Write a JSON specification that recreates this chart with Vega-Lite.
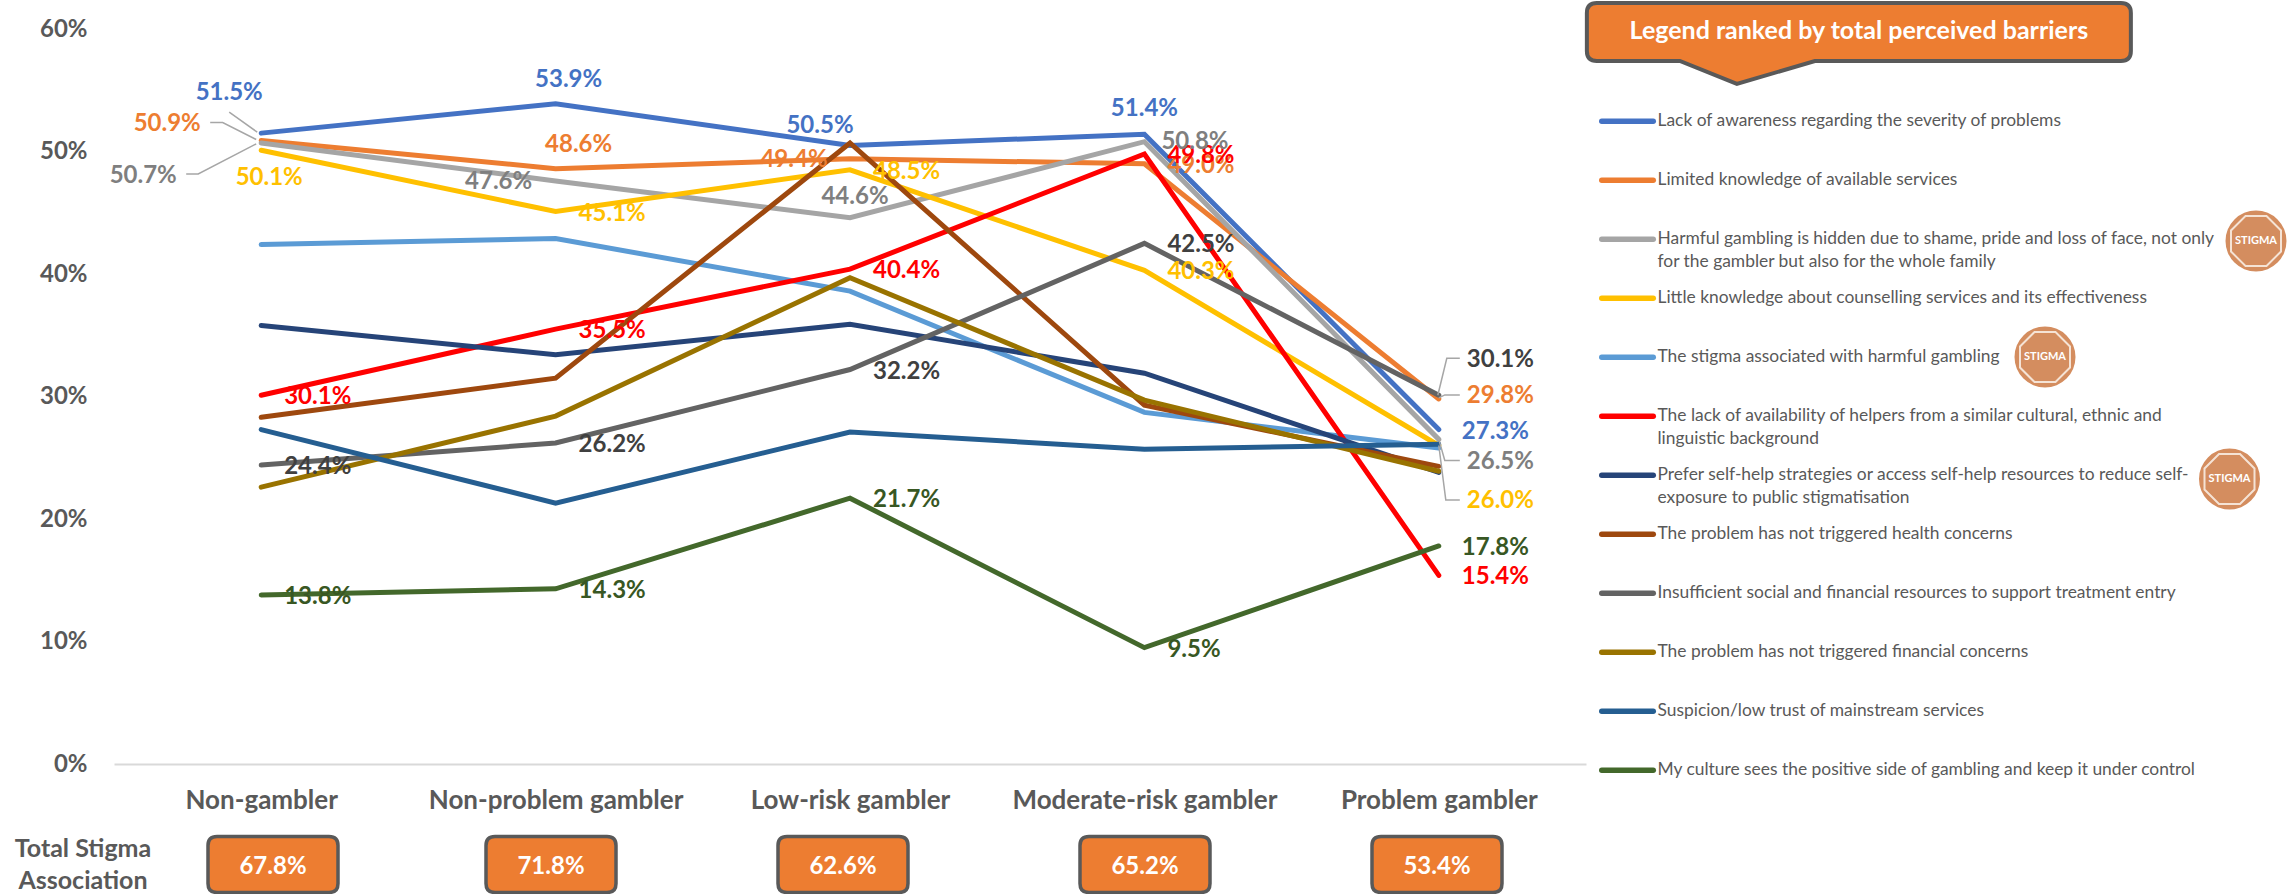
{"$schema":"https://vega.github.io/schema/vega-lite/v6.json","autosize":"none","width":1472,"height":735,"padding":{"left":114,"top":29,"right":709,"bottom":130},"background":"white","config":{"view":{"stroke":null},"font":"Lato"},
"datasets":{"rows":[
{"barrier":"Lack of awareness regarding the severity of problems","key":"aware","group":"Non-gambler","point":"aware-1","value":0.515},
{"barrier":"Lack of awareness regarding the severity of problems","key":"aware","group":"Non-problem gambler","point":"aware-2","value":0.539},
{"barrier":"Lack of awareness regarding the severity of problems","key":"aware","group":"Low-risk gambler","point":"aware-3","value":0.505},
{"barrier":"Lack of awareness regarding the severity of problems","key":"aware","group":"Moderate-risk gambler","point":"aware-4","value":0.514},
{"barrier":"Lack of awareness regarding the severity of problems","key":"aware","group":"Problem gambler","point":"aware-5","value":0.273},
{"barrier":"Limited knowledge of available services","key":"limited","group":"Non-gambler","point":"limited-1","value":0.509},
{"barrier":"Limited knowledge of available services","key":"limited","group":"Non-problem gambler","point":"limited-2","value":0.486},
{"barrier":"Limited knowledge of available services","key":"limited","group":"Low-risk gambler","point":"limited-3","value":0.494},
{"barrier":"Limited knowledge of available services","key":"limited","group":"Moderate-risk gambler","point":"limited-4","value":0.49},
{"barrier":"Limited knowledge of available services","key":"limited","group":"Problem gambler","point":"limited-5","value":0.298},
{"barrier":"Harmful gambling is hidden due to shame, pride and loss of face, not only for the gambler but also for the whole family","key":"harmful","group":"Non-gambler","point":"harmful-1","value":0.507},
{"barrier":"Harmful gambling is hidden due to shame, pride and loss of face, not only for the gambler but also for the whole family","key":"harmful","group":"Non-problem gambler","point":"harmful-2","value":0.476},
{"barrier":"Harmful gambling is hidden due to shame, pride and loss of face, not only for the gambler but also for the whole family","key":"harmful","group":"Low-risk gambler","point":"harmful-3","value":0.446},
{"barrier":"Harmful gambling is hidden due to shame, pride and loss of face, not only for the gambler but also for the whole family","key":"harmful","group":"Moderate-risk gambler","point":"harmful-4","value":0.508},
{"barrier":"Harmful gambling is hidden due to shame, pride and loss of face, not only for the gambler but also for the whole family","key":"harmful","group":"Problem gambler","point":"harmful-5","value":0.265},
{"barrier":"Little knowledge about counselling services and its effectiveness","key":"little","group":"Non-gambler","point":"little-1","value":0.501},
{"barrier":"Little knowledge about counselling services and its effectiveness","key":"little","group":"Non-problem gambler","point":"little-2","value":0.451},
{"barrier":"Little knowledge about counselling services and its effectiveness","key":"little","group":"Low-risk gambler","point":"little-3","value":0.485},
{"barrier":"Little knowledge about counselling services and its effectiveness","key":"little","group":"Moderate-risk gambler","point":"little-4","value":0.403},
{"barrier":"Little knowledge about counselling services and its effectiveness","key":"little","group":"Problem gambler","point":"little-5","value":0.26},
{"barrier":"The stigma associated with harmful gambling","key":"stigma","group":"Non-gambler","point":"stigma-1","value":0.424},
{"barrier":"The stigma associated with harmful gambling","key":"stigma","group":"Non-problem gambler","point":"stigma-2","value":0.429},
{"barrier":"The stigma associated with harmful gambling","key":"stigma","group":"Low-risk gambler","point":"stigma-3","value":0.386},
{"barrier":"The stigma associated with harmful gambling","key":"stigma","group":"Moderate-risk gambler","point":"stigma-4","value":0.287},
{"barrier":"The stigma associated with harmful gambling","key":"stigma","group":"Problem gambler","point":"stigma-5","value":0.258},
{"barrier":"The lack of availability of helpers from a similar cultural, ethnic and linguistic background","key":"helpers","group":"Non-gambler","point":"helpers-1","value":0.301},
{"barrier":"The lack of availability of helpers from a similar cultural, ethnic and linguistic background","key":"helpers","group":"Non-problem gambler","point":"helpers-2","value":0.355},
{"barrier":"The lack of availability of helpers from a similar cultural, ethnic and linguistic background","key":"helpers","group":"Low-risk gambler","point":"helpers-3","value":0.404},
{"barrier":"The lack of availability of helpers from a similar cultural, ethnic and linguistic background","key":"helpers","group":"Moderate-risk gambler","point":"helpers-4","value":0.498},
{"barrier":"The lack of availability of helpers from a similar cultural, ethnic and linguistic background","key":"helpers","group":"Problem gambler","point":"helpers-5","value":0.154},
{"barrier":"Prefer self-help strategies or access self-help resources to reduce self-exposure to public stigmatisation","key":"selfhelp","group":"Non-gambler","point":"selfhelp-1","value":0.358},
{"barrier":"Prefer self-help strategies or access self-help resources to reduce self-exposure to public stigmatisation","key":"selfhelp","group":"Non-problem gambler","point":"selfhelp-2","value":0.334},
{"barrier":"Prefer self-help strategies or access self-help resources to reduce self-exposure to public stigmatisation","key":"selfhelp","group":"Low-risk gambler","point":"selfhelp-3","value":0.359},
{"barrier":"Prefer self-help strategies or access self-help resources to reduce self-exposure to public stigmatisation","key":"selfhelp","group":"Moderate-risk gambler","point":"selfhelp-4","value":0.319},
{"barrier":"Prefer self-help strategies or access self-help resources to reduce self-exposure to public stigmatisation","key":"selfhelp","group":"Problem gambler","point":"selfhelp-5","value":0.238},
{"barrier":"The problem has not triggered health concerns","key":"health","group":"Non-gambler","point":"health-1","value":0.283},
{"barrier":"The problem has not triggered health concerns","key":"health","group":"Non-problem gambler","point":"health-2","value":0.315},
{"barrier":"The problem has not triggered health concerns","key":"health","group":"Low-risk gambler","point":"health-3","value":0.507},
{"barrier":"The problem has not triggered health concerns","key":"health","group":"Moderate-risk gambler","point":"health-4","value":0.293},
{"barrier":"The problem has not triggered health concerns","key":"health","group":"Problem gambler","point":"health-5","value":0.243},
{"barrier":"Insufficient social and financial resources to support treatment entry","key":"resources","group":"Non-gambler","point":"resources-1","value":0.244},
{"barrier":"Insufficient social and financial resources to support treatment entry","key":"resources","group":"Non-problem gambler","point":"resources-2","value":0.262},
{"barrier":"Insufficient social and financial resources to support treatment entry","key":"resources","group":"Low-risk gambler","point":"resources-3","value":0.322},
{"barrier":"Insufficient social and financial resources to support treatment entry","key":"resources","group":"Moderate-risk gambler","point":"resources-4","value":0.425},
{"barrier":"Insufficient social and financial resources to support treatment entry","key":"resources","group":"Problem gambler","point":"resources-5","value":0.301},
{"barrier":"The problem has not triggered financial concerns","key":"financial","group":"Non-gambler","point":"financial-1","value":0.226},
{"barrier":"The problem has not triggered financial concerns","key":"financial","group":"Non-problem gambler","point":"financial-2","value":0.284},
{"barrier":"The problem has not triggered financial concerns","key":"financial","group":"Low-risk gambler","point":"financial-3","value":0.397},
{"barrier":"The problem has not triggered financial concerns","key":"financial","group":"Moderate-risk gambler","point":"financial-4","value":0.297},
{"barrier":"The problem has not triggered financial concerns","key":"financial","group":"Problem gambler","point":"financial-5","value":0.239},
{"barrier":"Suspicion/low trust of mainstream services","key":"trust","group":"Non-gambler","point":"trust-1","value":0.273},
{"barrier":"Suspicion/low trust of mainstream services","key":"trust","group":"Non-problem gambler","point":"trust-2","value":0.213},
{"barrier":"Suspicion/low trust of mainstream services","key":"trust","group":"Low-risk gambler","point":"trust-3","value":0.271},
{"barrier":"Suspicion/low trust of mainstream services","key":"trust","group":"Moderate-risk gambler","point":"trust-4","value":0.257},
{"barrier":"Suspicion/low trust of mainstream services","key":"trust","group":"Problem gambler","point":"trust-5","value":0.261},
{"barrier":"My culture sees the positive side of gambling and keep it under control","key":"culture","group":"Non-gambler","point":"culture-1","value":0.138},
{"barrier":"My culture sees the positive side of gambling and keep it under control","key":"culture","group":"Non-problem gambler","point":"culture-2","value":0.143},
{"barrier":"My culture sees the positive side of gambling and keep it under control","key":"culture","group":"Low-risk gambler","point":"culture-3","value":0.217},
{"barrier":"My culture sees the positive side of gambling and keep it under control","key":"culture","group":"Moderate-risk gambler","point":"culture-4","value":0.095},
{"barrier":"My culture sees the positive side of gambling and keep it under control","key":"culture","group":"Problem gambler","point":"culture-5","value":0.178}
],
"totals":[
{"group":"Non-gambler","order":1,"total":0.678},
{"group":"Non-problem gambler","order":2,"total":0.718},
{"group":"Low-risk gambler","order":3,"total":0.626},
{"group":"Moderate-risk gambler","order":4,"total":0.652},
{"group":"Problem gambler","order":5,"total":0.534}
],
"badges":[{"rank":3,"label":"STIGMA"},{"rank":5,"label":"STIGMA"},{"rank":7,"label":"STIGMA"}]},
"resolve":{"scale":{"x":"independent","y":"independent"}},
"layer":[
{"data":{"name":"rows"},
"encoding":{
"x":{"field":"group","type":"nominal","sort":null,"scale":{"type":"point","padding":0.5,"domain":["Non-gambler","Non-problem gambler","Low-risk gambler","Moderate-risk gambler","Problem gambler"]},"axis":{"title":null,"labelAngle":0,"labelFont":"Lato","labelFontWeight":"bold","labelFontSize":26,"labelColor":"#595959","labelPadding":23,"ticks":false,"domainColor":"#D9D9D9","domainWidth":2,"grid":false,"labelLimit":400}},
"y":{"field":"value","type":"quantitative","scale":{"domain":[0,0.6],"nice":false},"axis":{"title":null,"format":".0%","values":[0,0.1,0.2,0.3,0.4,0.5,0.6],"labelFont":"Lato","labelFontWeight":"bold","labelFontSize":24,"labelColor":"#595959","labelPadding":27,"ticks":false,"domain":false,"grid":false}}},
"layer":[
{"mark":{"type":"line","strokeWidth":5,"strokeCap":"round","strokeJoin":"miter"},
"encoding":{"stroke":{"field":"barrier","type":"nominal","sort":null,
"scale":{"domain":["Lack of awareness regarding the severity of problems","Limited knowledge of available services","Harmful gambling is hidden due to shame, pride and loss of face, not only for the gambler but also for the whole family","Little knowledge about counselling services and its effectiveness","The stigma associated with harmful gambling","The lack of availability of helpers from a similar cultural, ethnic and linguistic background","Prefer self-help strategies or access self-help resources to reduce self-exposure to public stigmatisation","The problem has not triggered health concerns","Insufficient social and financial resources to support treatment entry","The problem has not triggered financial concerns","Suspicion/low trust of mainstream services","My culture sees the positive side of gambling and keep it under control"],
"range":["#4472C4","#ED7D31","#A5A5A5","#FFC000","#5B9BD5","#FF0000","#264478","#9E480E","#636363","#997300","#255E91","#43682B"]},
"legend":{"title":null,"orient":"none","legendX":1485,"legendY":65,"padding":0,"symbolType":"stroke","symbolSize":2652,"symbolStrokeWidth":5.5,"labelOffset":1.5,"clipHeight":58.7,"rowPadding":0,"labelFont":"Lato","labelFontSize":17.4,"labelColor":"#595959","labelLimit":700,"labelBaseline":"top",
"labelExpr":"split(replace(replace(replace(datum.label,' for the gambler','|for the gambler'),' linguistic background','|linguistic background'),'self-exposure','self-|exposure'),'|')",
"encoding":{"labels":{"dy":{"value":-11},"lineHeight":{"value":23}},"symbols":{"strokeCap":{"value":"round"},"y":{"value":27.35}}}}},
"order":{"field":"point","type":"nominal","sort":"ascending"}}},
{"transform":[{"filter":{"field":"point","oneOf":["aware-5","helpers-1","helpers-2","helpers-3","helpers-4","helpers-5","little-2","little-3","little-4","limited-4","resources-1","resources-2","resources-3","resources-4","culture-1","culture-2","culture-3","culture-4","culture-5"]}}],
"mark":{"type":"text","align":"left","dx":23,"dy":2,"fontSize":24,"fontWeight":"bold","font":"Lato"},
"encoding":{"text":{"field":"value","type":"quantitative","format":".1%"},"fill":{"field":"key","type":"nominal","legend":null,"scale":{"domain":["aware","limited","harmful","little","helpers","resources","culture"],"range":["#4472C4","#ED7D31","#7F7F7F","#FFC000","#FF0000","#404040","#385723"]}}}},
{"transform":[{"filter":{"field":"point","equal":"aware-1"}}],"mark":{"type":"text","dx":-32,"dy":-40,"fontSize":24,"fontWeight":"bold","font":"Lato"},"encoding":{"text":{"field":"value","type":"quantitative","format":".1%"},"fill":{"field":"key","type":"nominal","legend":null}}},
{"transform":[{"filter":{"field":"point","equal":"limited-1"}}],"mark":{"type":"text","dx":-94,"dy":-16,"fontSize":24,"fontWeight":"bold","font":"Lato"},"encoding":{"text":{"field":"value","type":"quantitative","format":".1%"},"fill":{"field":"key","type":"nominal","legend":null}}},
{"transform":[{"filter":{"field":"point","equal":"harmful-1"}}],"mark":{"type":"text","dx":-118,"dy":33,"fontSize":24,"fontWeight":"bold","font":"Lato"},"encoding":{"text":{"field":"value","type":"quantitative","format":".1%"},"fill":{"field":"key","type":"nominal","legend":null}}},
{"transform":[{"filter":{"field":"point","equal":"little-1"}}],"mark":{"type":"text","dx":8,"dy":28,"fontSize":24,"fontWeight":"bold","font":"Lato"},"encoding":{"text":{"field":"value","type":"quantitative","format":".1%"},"fill":{"field":"key","type":"nominal","legend":null}}},
{"transform":[{"filter":{"field":"point","equal":"aware-2"}}],"mark":{"type":"text","dx":13,"dy":-24,"fontSize":24,"fontWeight":"bold","font":"Lato"},"encoding":{"text":{"field":"value","type":"quantitative","format":".1%"},"fill":{"field":"key","type":"nominal","legend":null}}},
{"transform":[{"filter":{"field":"point","equal":"limited-2"}}],"mark":{"type":"text","dx":23,"dy":-24,"fontSize":24,"fontWeight":"bold","font":"Lato"},"encoding":{"text":{"field":"value","type":"quantitative","format":".1%"},"fill":{"field":"key","type":"nominal","legend":null}}},
{"transform":[{"filter":{"field":"point","equal":"harmful-2"}}],"mark":{"type":"text","dx":-57,"dy":1,"fontSize":24,"fontWeight":"bold","font":"Lato"},"encoding":{"text":{"field":"value","type":"quantitative","format":".1%"},"fill":{"field":"key","type":"nominal","legend":null}}},
{"transform":[{"filter":{"field":"point","equal":"aware-3"}}],"mark":{"type":"text","dx":-30,"dy":-19,"fontSize":24,"fontWeight":"bold","font":"Lato"},"encoding":{"text":{"field":"value","type":"quantitative","format":".1%"},"fill":{"field":"key","type":"nominal","legend":null}}},
{"transform":[{"filter":{"field":"point","equal":"limited-3"}}],"mark":{"type":"text","dx":-56,"dy":1,"fontSize":24,"fontWeight":"bold","font":"Lato"},"encoding":{"text":{"field":"value","type":"quantitative","format":".1%"},"fill":{"field":"key","type":"nominal","legend":null}}},
{"transform":[{"filter":{"field":"point","equal":"harmful-3"}}],"mark":{"type":"text","dx":5,"dy":-21,"fontSize":24,"fontWeight":"bold","font":"Lato"},"encoding":{"text":{"field":"value","type":"quantitative","format":".1%"},"fill":{"field":"key","type":"nominal","legend":null}}},
{"transform":[{"filter":{"field":"point","equal":"aware-4"}}],"mark":{"type":"text","dx":0,"dy":-25,"fontSize":24,"fontWeight":"bold","font":"Lato"},"encoding":{"text":{"field":"value","type":"quantitative","format":".1%"},"fill":{"field":"key","type":"nominal","legend":null}}},
{"transform":[{"filter":{"field":"point","equal":"harmful-4"}}],"mark":{"type":"text","align":"left","dx":17,"dy":0,"fontSize":24,"fontWeight":"bold","font":"Lato"},"encoding":{"text":{"field":"value","type":"quantitative","format":".1%"},"fill":{"field":"key","type":"nominal","legend":null}}},
{"transform":[{"filter":{"field":"point","equal":"resources-5"}}],"mark":{"type":"text","align":"left","dx":28,"dy":-35,"fontSize":24,"fontWeight":"bold","font":"Lato"},"encoding":{"text":{"field":"value","type":"quantitative","format":".1%"},"fill":{"field":"key","type":"nominal","legend":null}}},
{"transform":[{"filter":{"field":"point","equal":"limited-5"}}],"mark":{"type":"text","align":"left","dx":28,"dy":-3,"fontSize":24,"fontWeight":"bold","font":"Lato"},"encoding":{"text":{"field":"value","type":"quantitative","format":".1%"},"fill":{"field":"key","type":"nominal","legend":null}}},
{"transform":[{"filter":{"field":"point","equal":"harmful-5"}}],"mark":{"type":"text","align":"left","dx":28,"dy":23,"fontSize":24,"fontWeight":"bold","font":"Lato"},"encoding":{"text":{"field":"value","type":"quantitative","format":".1%"},"fill":{"field":"key","type":"nominal","legend":null}}},
{"transform":[{"filter":{"field":"point","equal":"little-5"}}],"mark":{"type":"text","align":"left","dx":28,"dy":55,"fontSize":24,"fontWeight":"bold","font":"Lato"},"encoding":{"text":{"field":"value","type":"quantitative","format":".1%"},"fill":{"field":"key","type":"nominal","legend":null}}},
{"transform":[{"filter":{"field":"point","oneOf":["aware-1","limited-1","harmful-1","resources-5","limited-5","harmful-5","little-5"]}}],
"mark":{"type":"point","filled":false,"stroke":"#A6A6A6","strokeWidth":1.5,"size":4,"opacity":1},
"encoding":{"shape":{"field":"point","type":"nominal","legend":null,"scale":{"domain":["aware-1","limited-1","harmful-1","resources-5","limited-5","harmful-5","little-5"],"range":["M-4 -1L-32 -21","M-5 -1L-38.5 -18L-51 -18","M-5 1L-63 31L-75 31","M-1 0L8 -37L21 -37","M0 -1L6 -4L21 -4","M0 0L6 21L21 21","M0 0L7 54.5L21 54.5"]}}}}
]},
{"data":{"name":"totals"},
"encoding":{"x":{"field":"order","type":"quantitative","axis":null,"scale":{"domain":[0,1,2,3,4,5],"range":[-31,159,437,729,1031,1323],"zero":false,"nice":false}},
"y":{"datum":-0.082,"type":"quantitative","axis":null,"scale":{"domain":[0,0.6],"nice":false}}},
"layer":[
{"mark":{"type":"point","shape":"M-56 -28L56 -28Q65 -28 65 -19L65 19Q65 28 56 28L-56 28Q-65 28 -65 19L-65 -19Q-65 -28 -56 -28Z","size":4,"filled":true,"fill":"#ED7D31","stroke":"#595959","strokeWidth":3.5,"opacity":1}},
{"mark":{"type":"text","dy":3,"fontSize":24,"fontWeight":"bold","font":"Lato","fill":"white"},"encoding":{"text":{"field":"total","type":"quantitative","format":".1%"}}},
{"data":{"values":[{"order":0,"label":"Total Stigma|Association"}]},"mark":{"type":"text","lineBreak":"|","lineHeight":32,"fontSize":25,"fontWeight":"bold","font":"Lato","fill":"#595959","dy":-15},"encoding":{"text":{"field":"label","type":"nominal"}}}
]},
{"data":{"values":[{"label":"Legend ranked by total perceived barriers"}]},
"encoding":{"x":{"datum":38.4,"type":"quantitative","axis":null,"scale":{"domain":[0,100],"range":[1473,2181],"zero":false,"nice":false}},
"y":{"datum":0.5984,"type":"quantitative","axis":null,"scale":{"domain":[0,0.6],"nice":false}}},
"layer":[
{"mark":{"type":"point","shape":"M-262 -28L262 -28Q272 -28 272 -18L272 20Q272 30 262 30L-44 30L-122 53L-179 30L-262 30Q-272 30 -272 20L-272 -18Q-272 -28 -262 -28Z","size":4,"filled":true,"fill":"#ED7D31","stroke":"#595959","strokeWidth":4,"opacity":1}},
{"mark":{"type":"text","fontSize":25,"fontWeight":"bold","font":"Lato","fill":"white"},"encoding":{"text":{"field":"label","type":"nominal"}}}
]},
{"data":{"name":"badges"},
"encoding":{"x":{"field":"rank","type":"quantitative","axis":null,"scale":{"domain":[3,5,7],"range":[2142,1931,2115.5],"zero":false,"nice":false}},
"y":{"field":"rank","type":"quantitative","axis":null,"scale":{"domain":[3,5,7],"range":[212,328,450],"zero":false,"nice":false}}},
"layer":[
{"mark":{"type":"point","shape":"circle","size":3721,"filled":true,"fill":"#D48D5F","opacity":1}},
{"mark":{"type":"point","shape":"M-10.5 -25L10.5 -25L25 -10.5L25 10.5L10.5 25L-10.5 25L-25 10.5L-25 -10.5Z","size":4,"filled":false,"stroke":"#F5E3D5","strokeWidth":2,"opacity":1}},
{"mark":{"type":"text","fontSize":11,"fontWeight":"bold","font":"Lato","fill":"white"},"encoding":{"text":{"field":"label","type":"nominal"}}}
]}
]}
